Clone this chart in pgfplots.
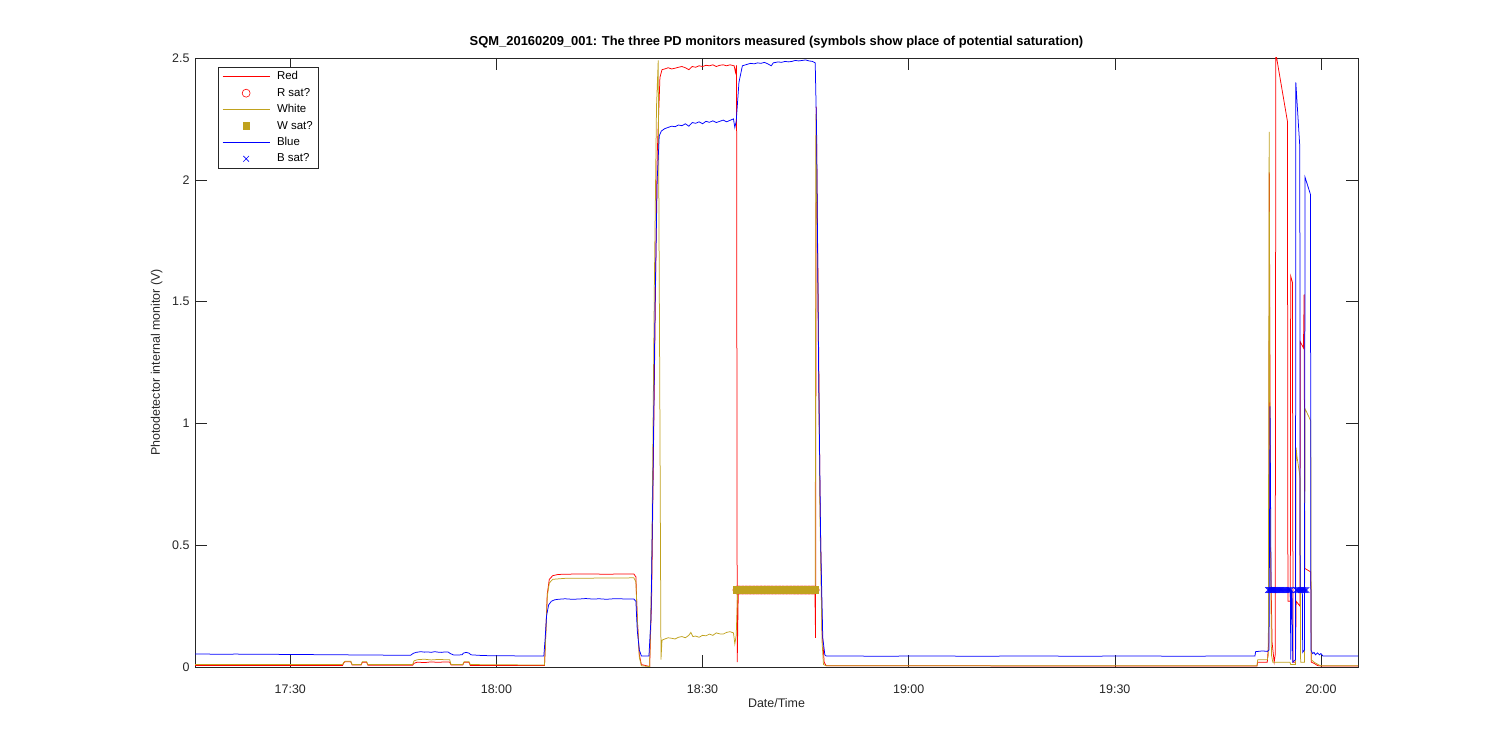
\documentclass[border=0pt]{standalone}
\usepackage{pgfplots}
\pgfplotsset{compat=1.18}
\usepackage{pgfplotstable}
\usepackage{fontspec}
\setmainfont{Liberation Sans}
\definecolor{mred}{rgb}{1,0,0}
\definecolor{mwhite}{RGB}{192,162,30}
\definecolor{mblue}{rgb}{0,0,1}
\definecolor{axgray}{rgb}{0.15,0.15,0.15}

\pgfplotstableread{
x y
95.0 0.316
95.2 0.316
95.4 0.316
95.6 0.316
95.8 0.316
96.0 0.316
96.2 0.316
96.4 0.316
96.6 0.316
96.8 0.316
97.0 0.316
97.2 0.316
97.4 0.316
97.6 0.316
97.8 0.316
98.0 0.316
98.2 0.316
98.4 0.316
98.6 0.316
98.8 0.316
99.0 0.316
99.2 0.316
99.4 0.316
99.6 0.316
99.8 0.316
100.0 0.316
100.2 0.316
100.4 0.316
100.6 0.316
100.8 0.316
101.0 0.316
101.2 0.316
101.4 0.316
101.6 0.316
101.8 0.316
102.0 0.316
102.2 0.316
102.4 0.316
102.6 0.316
102.8 0.316
103.0 0.316
103.2 0.316
103.4 0.316
103.6 0.316
103.8 0.316
104.0 0.316
104.2 0.316
104.4 0.316
104.6 0.316
104.8 0.316
105.0 0.316
105.2 0.316
105.4 0.316
105.6 0.316
105.8 0.316
106.0 0.316
106.2 0.316
106.4 0.316
}\satRW

\pgfplotstableread{
x y
172.30 0.316
172.45 0.316
172.60 0.316
172.75 0.316
172.90 0.316
173.05 0.316
173.20 0.316
173.35 0.316
173.50 0.316
173.65 0.316
173.80 0.316
173.95 0.316
174.10 0.316
174.25 0.316
174.40 0.316
174.55 0.316
174.70 0.316
174.85 0.316
175.00 0.316
175.15 0.316
175.30 0.316
175.45 0.316
175.60 0.316
176.40 0.316
176.55 0.316
176.70 0.316
176.85 0.316
177.00 0.316
177.15 0.316
177.30 0.316
177.45 0.316
177.60 0.316
177.75 0.316
177.90 0.316
}\satB

\begin{document}
\begin{tikzpicture}
\path[use as bounding box] (0bp,0bp) rectangle (1500bp,750bp);
\begin{axis}[
  at={(195bp,83bp)}, anchor=south west,
  scale only axis, width=1163bp, height=609bp,
  xmin=16.13, xmax=185.4, ymin=0, ymax=2.5,
  xtick={30,60,90,120,150,180},
  xticklabels={17:30,18:00,18:30,19:00,19:30,20:00},
  ytick={0,0.5,1,1.5,2,2.5},
  yticklabels={0,0.5,1,1.5,2,2.5},
  /pgf/number format/assume math mode=true,
  tick align=inside, major tick length=11.6bp,
  tick style={axgray, line width=0.5bp},
  axis line style={axgray, line width=0.6bp},
  ticklabel style={font=\fontsize{12.5}{14}\selectfont, text=axgray},
  xticklabel style={anchor=base, yshift=-27bp},
  yticklabel style={anchor=east, xshift=-2bp},
  xlabel={Date/Time},
  xlabel style={font=\fontsize{12.5}{14}\selectfont, text=axgray, at={(axis description cs:0.5,-0.0665)}, anchor=base},
  ylabel={Photodetector internal monitor (V)},
  ylabel style={font=\fontsize{12.5}{14}\selectfont, text=axgray, at={(axis description cs:-0.0301,0.5)}, anchor=base, rotate=0},
  title={SQM\_20160209\_001: The three PD monitors measured (symbols show place of potential saturation)},
  title style={font=\fontsize{13}{15}\selectfont\bfseries, at={(axis description cs:0.5,1.0115)}, anchor=base},
  legend style={at={(axis description cs:0.0198,0.985)}, anchor=north west,
    font=\fontsize{11.5}{13}\selectfont, draw=axgray, line width=0.5bp,
    row sep=3.6bp, inner xsep=3bp, inner ysep=3bp,
    nodes={inner ysep=0bp, inner xsep=3bp, text height=9.6bp, text depth=3.2bp}},
  legend cell align=left,
  legend image code/.code={\draw[mark repeat=2,mark phase=2,#1] plot coordinates {(0bp,0bp) (23.5bp,0bp) (47bp,0bp)};\path (-1bp,0bp) (51bp,0bp);},
  every axis plot/.append style={line width=0.75bp},
]
% Red
\addplot[mred, no marks] coordinates {
(16.13,0.006) (37.6,0.006) (37.8,0.018) (38,0.022) (38.8,0.022) (39.0,0.008) (40.3,0.008) (40.5,0.02) (41.1,0.02) (41.3,0.007) (47.8,0.007) (48.0,0.015) (48.5,0.02) (49.5,0.018) (50.5,0.021) (51.5,0.019) (52.5,0.021) (53.2,0.02) (53.4,0.008) (55.1,0.008) (55.3,0.02) (56.0,0.02) (56.2,0.006) (67.0,0.006) (67.2,0.15) (67.4,0.3) (67.7,0.36) (68.2,0.375) (69,0.38) (72,0.382) (76,0.381) (80,0.382) (80.3,0.37) (80.5,0.2) (80.8,0.05) (81.1,0.01) (82.3,0.002) (82.6,0.3) (83.0,1.2) (83.4,2.1) (83.8,2.42) (84.1,2.452) (84.5,2.455) (85,2.46) (85.5,2.455) (86,2.458) (86.5,2.462) (87,2.465) (87.5,2.46) (88,2.452) (88.5,2.465) (89,2.462) (89.5,2.468) (90,2.465) (90.5,2.47) (91,2.468) (91.5,2.472) (92,2.465) (92.5,2.47) (93,2.472) (93.5,2.468) (94,2.472) (94.6,2.468) (94.8,2.44) (94.95,2.47) (95.05,0.02) (95.2,0.3) (95.35,0.316) (106.35,0.316) (106.45,0.12) (106.55,2.3) (106.8,1.6) (107.1,0.7) (107.4,0.15) (107.7,0.02) (108,0.005) (170.7,0.004) (170.8,0.02) (172.2,0.02) (172.4,0.1) (172.5,2.03) (172.65,0.5) (172.9,0.1) (173.2,0.02) (173.35,0.05) (173.44,2.52) (175.13,2.24) (175.2,0.27) (175.55,0.27) (175.6,1.605) (175.85,1.58) (175.95,0.02) (176.3,0.02) (176.4,0.27) (176.95,0.25) (177.0,1.335) (177.46,1.31) (177.56,1.53) (177.65,0.405) (178.53,0.39) (178.6,0.02) (179,0.015) (179.5,0.006) (180,0.004) (185.4,0.004)
};
\addplot[mred, only marks, mark=o, mark size=4bp, mark options={line width=0.6bp}] table[x=x,y=y] {\satRW};
% White
\addplot[mwhite, no marks] coordinates {
(16.13,0.01) (37.6,0.01) (37.8,0.02) (38,0.024) (38.8,0.024) (39.0,0.01) (40.3,0.01) (40.5,0.022) (41.1,0.022) (41.3,0.01) (47.8,0.01) (48.0,0.025) (48.5,0.03) (49.5,0.032) (50.5,0.029) (51.5,0.031) (52.5,0.03) (53.2,0.03) (53.4,0.01) (55.1,0.01) (55.3,0.022) (56.0,0.022) (56.2,0.01) (67.0,0.008) (67.2,0.14) (67.4,0.29) (67.7,0.345) (68.2,0.36) (70,0.364) (75,0.365) (80,0.366) (80.3,0.35) (80.5,0.2) (80.8,0.04) (81.1,0.005) (82.3,0.002) (82.6,0.4) (83.0,1.6) (83.3,2.3) (83.55,2.49) (83.8,1.0) (83.95,0.03) (84.1,0.11) (84.5,0.115) (85,0.12) (85.5,0.118) (86,0.115) (86.5,0.122) (87,0.125) (87.5,0.12) (88,0.13) (88.3,0.142) (88.6,0.125) (89,0.127) (89.5,0.122) (90,0.13) (90.5,0.128) (91,0.135) (91.5,0.13) (92,0.14) (92.5,0.136) (93,0.135) (93.5,0.142) (94,0.145) (94.5,0.14) (94.7,0.095) (94.9,0.13) (95.1,0.3) (95.3,0.316) (106.4,0.316) (106.5,2.27) (106.8,1.5) (107.1,0.6) (107.4,0.1) (107.6,0.01) (108,0.005) (170.7,0.005) (170.8,0.03) (172.2,0.03) (172.35,0.05) (172.47,2.197) (172.6,0.8) (172.8,0.05) (173.0,0.02) (175.5,0.02) (175.6,0.01) (176.3,0.01) (176.4,0.9) (176.49,0.87) (176.98,0.776) (177.05,0.02) (177.6,0.02) (177.7,1.06) (178.53,1.01) (178.6,0.03) (179,0.02) (179.6,0.01) (180,0.005) (185.4,0.005)
};
\addplot[mwhite, only marks, mark=square*, mark size=3.4bp, mark options={fill=mwhite, draw=mwhite, line width=0.3bp}] table[x=x,y=y] {\satRW};
% Blue
\addplot[mblue, no marks] coordinates {
(16.13,0.053) (18,0.053) (20,0.052) (22,0.053) (25,0.052) (28,0.052) (30,0.051) (33,0.051) (35,0.050) (38,0.050) (40,0.049) (43,0.049) (45,0.048) (47.5,0.048) (47.9,0.056) (48.3,0.060) (49,0.063) (49.5,0.061) (50,0.062) (50.5,0.060) (51,0.063) (51.5,0.061) (52,0.060) (52.5,0.062) (53,0.061) (53.3,0.055) (53.8,0.049) (55.0,0.050) (55.2,0.057) (55.6,0.060) (56.0,0.057) (56.3,0.050) (58,0.047) (60,0.046) (62,0.046) (64,0.045) (66.9,0.045) (67.1,0.12) (67.3,0.21) (67.6,0.255) (68,0.27) (68.5,0.276) (69,0.278) (70,0.280) (71,0.278) (72,0.279) (73,0.281) (74,0.279) (75,0.280) (76,0.278) (77,0.280) (78,0.280) (79,0.279) (80,0.279) (80.3,0.27) (80.5,0.15) (80.8,0.07) (81.1,0.045) (82.2,0.045) (82.5,0.2) (82.8,0.8) (83.1,1.5) (83.4,2.0) (83.7,2.18) (84.0,2.2) (84.5,2.21) (85,2.215) (85.5,2.22) (86,2.218) (86.5,2.225) (87,2.222) (87.5,2.23) (88,2.22) (88.5,2.235) (89,2.232) (89.5,2.238) (90,2.23) (90.5,2.24) (91,2.236) (91.5,2.242) (92,2.235) (92.5,2.24) (93,2.245) (93.5,2.238) (94,2.244) (94.5,2.25) (94.7,2.215) (94.9,2.24) (95.3,2.4) (95.8,2.468) (96.5,2.474) (97,2.478) (97.5,2.476) (98,2.48) (98.5,2.478) (99,2.482) (99.5,2.476) (100,2.468) (100.3,2.48) (101,2.484) (101.5,2.482) (102,2.486) (102.5,2.484) (103,2.486) (103.5,2.49) (104,2.488) (104.5,2.49) (105,2.492) (105.5,2.488) (106,2.486) (106.4,2.48) (106.6,2.2) (106.9,1.2) (107.2,0.5) (107.5,0.12) (107.8,0.05) (108,0.045) (112,0.045) (116,0.044) (120,0.045) (125,0.045) (130,0.044) (135,0.045) (140,0.045) (145,0.044) (150,0.045) (155,0.045) (160,0.044) (165,0.045) (170.4,0.045) (170.5,0.063) (171.5,0.066) (172.2,0.064) (172.45,0.07) (172.6,1.07) (172.75,0.316) (175.55,0.316) (175.62,0.03) (175.7,0.316) (175.8,0.316) (175.9,0.02) (176.3,0.03) (176.35,2.40) (176.93,2.136) (176.98,0.316) (177.3,0.316) (177.35,0.06) (177.6,0.07) (177.7,2.01) (178.48,1.94) (178.55,0.07) (178.8,0.055) (179.0,0.06) (179.2,0.05) (179.5,0.058) (179.8,0.05) (180,0.055) (180.3,0.045) (182,0.045) (185.4,0.045)
};
\addplot[mblue, only marks, mark=x, mark size=4bp, mark options={line width=0.6bp}] table[x=x,y=y] {\satB};
\legend{Red,R sat?,White,W sat?,Blue,B sat?}
\end{axis}
\end{tikzpicture}
\end{document}
